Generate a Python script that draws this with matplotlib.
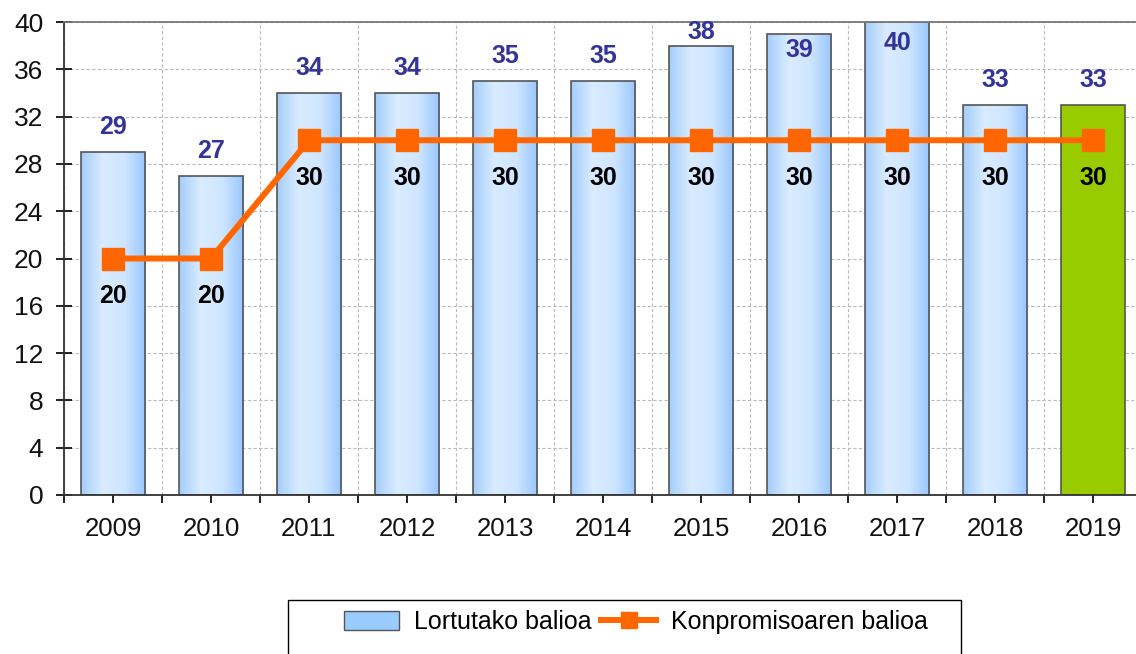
import numpy as np
import matplotlib.pyplot as plt
from matplotlib.patches import Rectangle, Patch
from matplotlib.lines import Line2D
from matplotlib.colors import LinearSegmentedColormap

years = ["2009", "2010", "2011", "2012", "2013", "2014", "2015", "2016", "2017", "2018", "2019"]
achieved = [29, 27, 34, 34, 35, 35, 38, 39, 40, 33, 33]
commitment = [20, 20, 30, 30, 30, 30, 30, 30, 30, 30, 30]

# label offsets (points) for the blue value labels; the tallest ones get pushed inside like in Excel
label_dy = [18, 18, 18, 18, 18, 18, 10, -12, -15, 18, 18]

plt.rcParams['font.family'] = ['Liberation Sans', 'DejaVu Sans']

W, H = 1136, 654
fig = plt.figure(figsize=(W / 100, H / 100), dpi=100)
ax = fig.add_axes([64 / W, 1 - 495 / H, (1142 - 64) / W, (495 - 22) / H])

x = np.arange(len(years))
bw = 0.66
grad = LinearSegmentedColormap.from_list("g", ["#a3cdfb", "#d9ecff", "#cfe6ff", "#98c6ff"])
gimg = np.linspace(0, 1, 256).reshape(1, -1)

bars = ax.bar(x, achieved, width=bw, color="#99ccff", edgecolor="#555555", linewidth=1.2, zorder=2)
for i, b in enumerate(bars):
    if i == len(bars) - 1:
        b.set_facecolor("#99cc00")
        continue
    b.set_facecolor("none")
    im = ax.imshow(gimg, cmap=grad, aspect="auto", zorder=1.9,
                   extent=[b.get_x(), b.get_x() + bw, 0, b.get_height()])
    im.set_clip_path(b)

ax.plot(x, commitment, color="#ff6600", lw=4.3, marker="s", ms=16, zorder=3)

for i in range(len(x)):
    ax.annotate(str(achieved[i]), (x[i], achieved[i]), xytext=(0, label_dy[i]), textcoords="offset points",
                ha="center", va="center", fontsize=18, fontweight="bold", color="#333399", zorder=4)
    ax.annotate(str(commitment[i]), (x[i], commitment[i]), xytext=(0, -27), textcoords="offset points",
                ha="center", va="center", fontsize=18, fontweight="bold", color="black", zorder=4)

ax.set_xlim(-0.5, len(years) - 0.5)
ax.set_ylim(0, 40)
ax.set_yticks(range(0, 41, 4))
ax.set_xticks(x)
ax.set_xticklabels(years)
ax.set_xticks(np.arange(len(years)) - 0.5, minor=True)
ax.tick_params(axis="y", direction="inout", length=12, width=1.3, labelsize=19, pad=9, colors="#111111")
ax.tick_params(axis="x", which="both", direction="out", length=6, width=1.3, labelsize=18.5, pad=10, colors="#111111")
ax.grid(axis="y", color="#bbbbbb", ls=(0, (3, 2)), lw=0.8, zorder=0)
ax.grid(axis="x", which="minor", color="#bbbbbb", ls=(0, (3, 2)), lw=0.8, zorder=0)
ax.set_axisbelow(True)
for s in ["left", "bottom", "top"]:
    ax.spines[s].set_color("#333333")
    ax.spines[s].set_linewidth(1.3)
ax.spines["top"].set_color("#777777")
ax.spines["right"].set_visible(False)

fig.patches.append(Rectangle((288 / W, -0.01), (961 - 288) / W, 54 / H + 0.01, transform=fig.transFigure,
                             fill=False, edgecolor="black", lw=1))
handles = [Patch(facecolor="#99ccff", edgecolor="#555555", lw=1),
           Line2D([], [], color="#ff6600", lw=4.3, marker="s", ms=12)]
fig.legend(handles, ["Lortutako balioa", "Konpromisoaren balioa"], ncol=2, frameon=False,
           loc="center", bbox_to_anchor=(636 / W, 1 - 622 / H), prop={"size": 18},
           handlelength=2.2, handleheight=0.8, columnspacing=0.4, handletextpad=0.6)

fig.savefig("out.png", dpi=100)
